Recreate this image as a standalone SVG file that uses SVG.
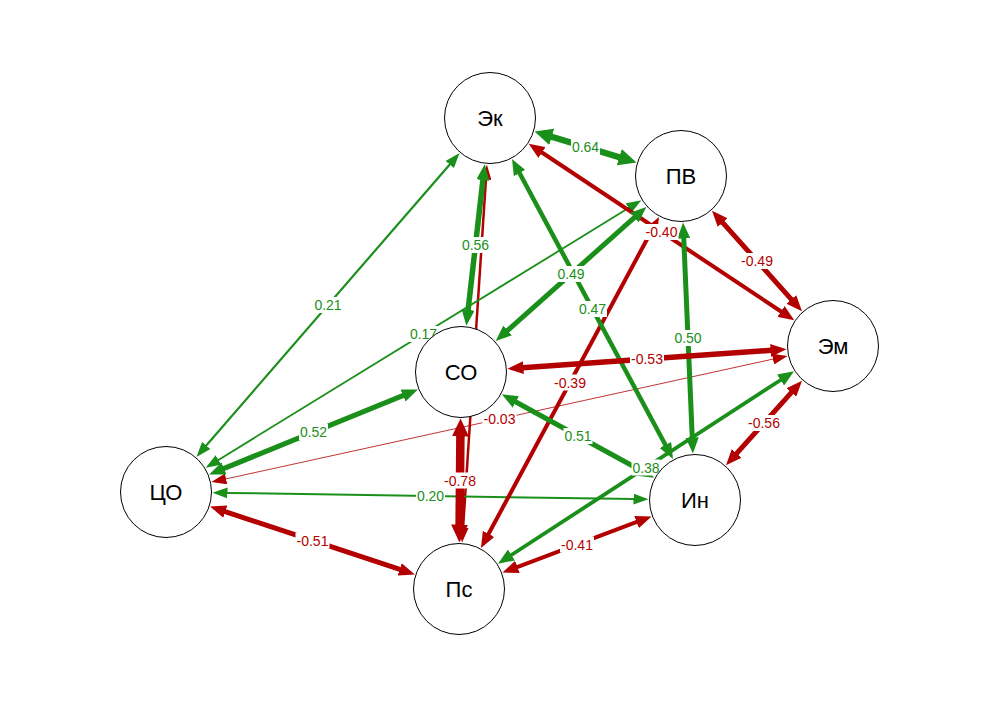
<svg xmlns="http://www.w3.org/2000/svg" width="1000" height="708" viewBox="0 0 1000 708">
<style>
.pos{stroke:#1a8f1a;fill:none}
.neg{stroke:#b30000;fill:none}
.bg{fill:#fff}
.lb{font-family:"Liberation Sans",Arial,sans-serif;font-size:14px;text-anchor:middle}
.lg{fill:#1a8f1a}
.lr{fill:#b30000}
.node circle{fill:#fff;stroke:#000;stroke-width:1}
.node text{font-family:"Liberation Sans",Arial,sans-serif;font-size:22px;text-anchor:middle;fill:#000}
</style>
<defs>
<marker id="gs" markerUnits="userSpaceOnUse" markerWidth="15" markerHeight="11" viewBox="0 0 15 11" refX="1" refY="5.5" orient="auto-start-reverse"><path d="M0,0L15,5.5L0,11z" fill="#1a8f1a"/></marker>
<marker id="gm" markerUnits="userSpaceOnUse" markerWidth="16" markerHeight="13" viewBox="0 0 16 13" refX="1" refY="6.5" orient="auto-start-reverse"><path d="M0,0L16,6.5L0,13z" fill="#1a8f1a"/></marker>
<marker id="gl" markerUnits="userSpaceOnUse" markerWidth="18" markerHeight="17" viewBox="0 0 18 17" refX="1" refY="8.5" orient="auto-start-reverse"><path d="M0,0L18,8.5L0,17z" fill="#1a8f1a"/></marker>
<marker id="rs" markerUnits="userSpaceOnUse" markerWidth="15" markerHeight="11" viewBox="0 0 15 11" refX="1" refY="5.5" orient="auto-start-reverse"><path d="M0,0L15,5.5L0,11z" fill="#b30000"/></marker>
<marker id="rm" markerUnits="userSpaceOnUse" markerWidth="16" markerHeight="13" viewBox="0 0 16 13" refX="1" refY="6.5" orient="auto-start-reverse"><path d="M0,0L16,6.5L0,13z" fill="#b30000"/></marker>
<marker id="rl" markerUnits="userSpaceOnUse" markerWidth="18" markerHeight="17" viewBox="0 0 18 17" refX="1" refY="8.5" orient="auto-start-reverse"><path d="M0,0L18,8.5L0,17z" fill="#b30000"/></marker>
</defs>
<rect width="1000" height="708" fill="#fff"/>
<g id="connectors">
<line class="neg" x1="225.1" y1="479.1" x2="773.9" y2="358.9" stroke-width="0.8" marker-start="url(#rs)" marker-end="url(#rs)"/>
<line class="neg" x1="463.0" y1="528.6" x2="486.0" y2="178.6" stroke-width="2.5" marker-start="url(#rs)" marker-end="url(#rs)"/>
<line class="pos" x1="629.4" y1="207.6" x2="217.6" y2="460.4" stroke-width="1.8" marker-start="url(#gs)" marker-end="url(#gs)"/>
<line class="pos" x1="450.4" y1="163.7" x2="205.6" y2="446.3" stroke-width="2.2" marker-start="url(#gs)" marker-end="url(#gs)"/>
<line class="pos" x1="226.5" y1="492.9" x2="634.5" y2="499.1" stroke-width="2" marker-start="url(#gs)" marker-end="url(#gs)"/>
<line class="pos" x1="510.6" y1="555.5" x2="781.4" y2="379.5" stroke-width="3.8" marker-start="url(#gm)" marker-end="url(#gm)"/>
<line class="neg" x1="651.9" y1="230.2" x2="488.1" y2="534.8" stroke-width="4" marker-start="url(#rm)" marker-end="url(#rm)"/>
<line class="neg" x1="541.2" y1="152.0" x2="781.8" y2="312.0" stroke-width="4" marker-start="url(#rm)" marker-end="url(#rm)"/>
<line class="neg" x1="516.5" y1="567.3" x2="637.5" y2="521.7" stroke-width="4" marker-start="url(#rm)" marker-end="url(#rm)"/>
<line class="pos" x1="519.1" y1="172.2" x2="665.9" y2="445.8" stroke-width="4.5" marker-start="url(#gm)" marker-end="url(#gm)"/>
<line class="neg" x1="722.0" y1="221.9" x2="792.0" y2="300.1" stroke-width="5" marker-start="url(#rm)" marker-end="url(#rm)"/>
<line class="pos" x1="635.1" y1="216.9" x2="506.9" y2="331.1" stroke-width="5" marker-start="url(#gm)" marker-end="url(#gm)"/>
<line class="pos" x1="683.7" y1="237.4" x2="692.3" y2="438.6" stroke-width="5" marker-start="url(#gm)" marker-end="url(#gm)"/>
<line class="pos" x1="515.0" y1="401.5" x2="641.0" y2="470.5" stroke-width="5" marker-start="url(#gm)" marker-end="url(#gm)"/>
<line class="neg" x1="224.4" y1="511.3" x2="400.6" y2="569.7" stroke-width="5" marker-start="url(#rm)" marker-end="url(#rm)"/>
<line class="pos" x1="223.0" y1="468.8" x2="404.0" y2="395.2" stroke-width="5.2" marker-start="url(#gm)" marker-end="url(#gm)"/>
<line class="neg" x1="522.4" y1="367.7" x2="771.6" y2="350.3" stroke-width="5.5" marker-start="url(#rm)" marker-end="url(#rm)"/>
<line class="pos" x1="483.0" y1="179.1" x2="468.0" y2="310.9" stroke-width="5.5" marker-start="url(#gm)" marker-end="url(#gm)"/>
<line class="neg" x1="792.0" y1="391.8" x2="736.0" y2="454.2" stroke-width="5" marker-start="url(#rm)" marker-end="url(#rm)"/>
<line class="pos" x1="550.8" y1="136.5" x2="620.2" y2="157.5" stroke-width="6.5" marker-start="url(#gl)" marker-end="url(#gl)"/>
<line class="neg" x1="460.4" y1="435.5" x2="459.6" y2="525.5" stroke-width="8.5" marker-start="url(#rl)" marker-end="url(#rl)"/>
</g>
<g id="edge-labels" class="lb">
<rect class="bg" x="571" y="139" width="29" height="16"/><text class="lg" x="585.5" y="152">0.64</text>
<rect class="bg" x="644.5" y="224" width="34" height="16"/><text class="lr" x="661.5" y="237">-0.40</text>
<rect class="bg" x="740" y="253" width="34" height="16"/><text class="lr" x="757" y="266">-0.49</text>
<rect class="bg" x="461" y="237" width="29" height="16"/><text class="lg" x="475.5" y="250">0.56</text>
<rect class="bg" x="556.5" y="266" width="29" height="16"/><text class="lg" x="571" y="279">0.49</text>
<rect class="bg" x="409" y="326" width="29" height="16"/><text class="lg" x="423.5" y="339">0.17</text>
<rect class="bg" x="313.5" y="297" width="29" height="16"/><text class="lg" x="328" y="310">0.21</text>
<rect class="bg" x="578" y="301" width="29" height="16"/><text class="lg" x="592.5" y="314">0.47</text>
<rect class="bg" x="673.5" y="330" width="29" height="16"/><text class="lg" x="688" y="343">0.50</text>
<rect class="bg" x="630" y="351" width="34" height="16"/><text class="lr" x="647" y="364">-0.53</text>
<rect class="bg" x="482.5" y="411" width="34" height="16"/><text class="lr" x="499.5" y="424">-0.03</text>
<rect class="bg" x="299" y="424" width="29" height="16"/><text class="lg" x="313.5" y="437">0.52</text>
<rect class="bg" x="443" y="472.5" width="34" height="16"/><text class="lr" x="460" y="485.5">-0.78</text>
<rect class="bg" x="563.5" y="428" width="29" height="16"/><text class="lg" x="578" y="441">0.51</text>
<rect class="bg" x="416" y="488" width="29" height="16"/><text class="lg" x="430.5" y="501">0.20</text>
<rect class="bg" x="295.5" y="532.5" width="34" height="16"/><text class="lr" x="312.5" y="545.5">-0.51</text>
<rect class="bg" x="560" y="536.5" width="34" height="16"/><text class="lr" x="577" y="549.5">-0.41</text>
<rect class="bg" x="631.5" y="459.5" width="29" height="16"/><text class="lg" x="646" y="472.5">0.38</text>
<rect class="bg" x="747" y="415" width="34" height="16"/><text class="lr" x="764" y="428">-0.56</text>
<rect class="bg" x="553" y="374.5" width="34" height="16"/><text class="lr" x="570" y="387.5">-0.39</text>
</g>
<g id="node-ek" class="node"><circle cx="490" cy="118" r="45.5"/><text x="490" y="126">Эк</text></g>
<g id="node-pv" class="node"><circle cx="681" cy="176" r="45.5"/><text x="681" y="184">ПВ</text></g>
<g id="node-em" class="node"><circle cx="833" cy="346" r="45.5"/><text x="833" y="354">Эм</text></g>
<g id="node-so" class="node"><circle cx="461" cy="372" r="45.5"/><text x="461" y="380">СО</text></g>
<g id="node-in" class="node"><circle cx="695" cy="500" r="45.5"/><text x="695" y="508">Ин</text></g>
<g id="node-co" class="node"><circle cx="166" cy="492" r="45.5"/><text x="166" y="500">ЦО</text></g>
<g id="node-ps" class="node"><circle cx="459" cy="589" r="45.5"/><text x="459" y="597">Пс</text></g>
</svg>
